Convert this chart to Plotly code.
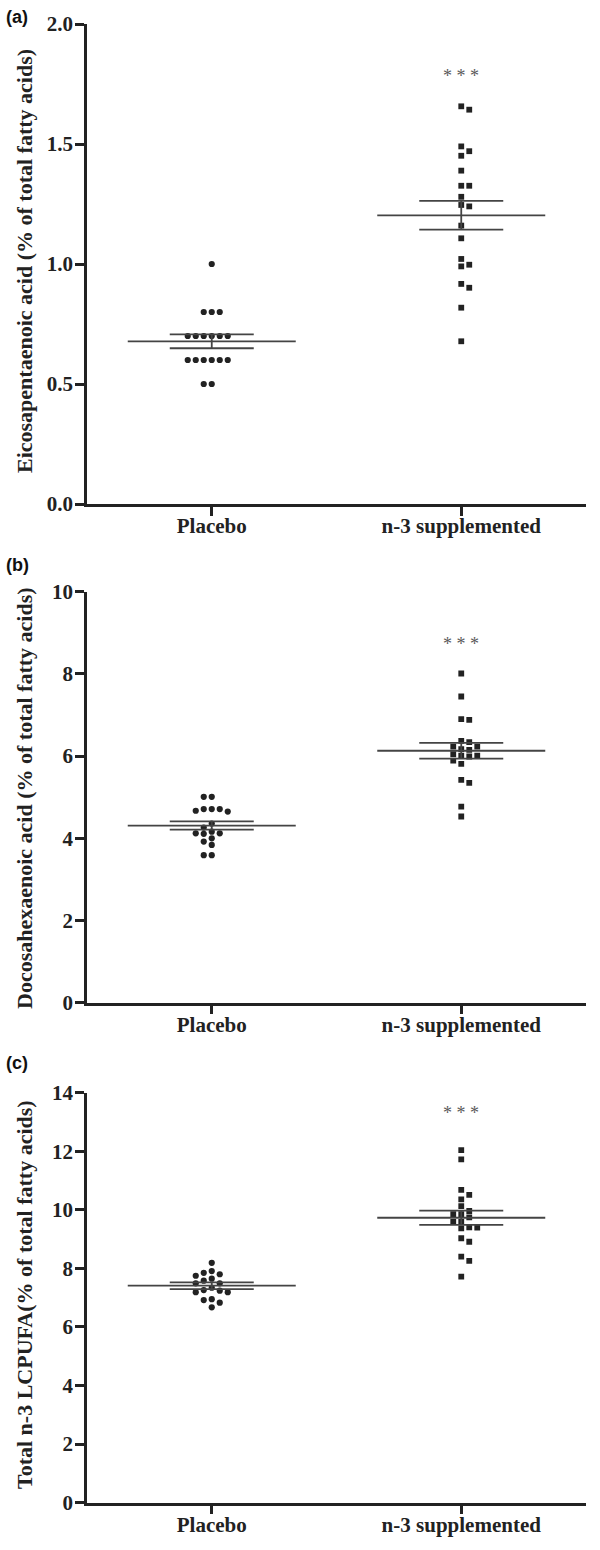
import plotly.graph_objects as go

# ---------------- data ----------------
categories = ["Placebo", "n-3 supplemented"]
panel_labels = ["(a)", "(b)", "(c)"]
y_titles = [
    "Eicosapentaenoic acid (% of total fatty acids)",
    "Docosahexaenoic acid (% of total fatty acids)",
    "Total n-3 LCPUFA(% of total fatty acids)",
]
y_ticks_a = [0.0, 0.5, 1.0, 1.5, 2.0]
y_ticks_b = [0, 2, 4, 6, 8, 10]
y_ticks_c = [0, 2, 4, 6, 8, 10, 12, 14]

epa_placebo = [1.00, 0.80, 0.80, 0.80, 0.70, 0.70, 0.70, 0.70, 0.70, 0.70,
               0.60, 0.60, 0.60, 0.60, 0.60, 0.60, 0.50, 0.50]
epa_n3 = [1.657, 1.643, 1.490, 1.470, 1.451, 1.389, 1.326, 1.326, 1.280, 1.246,
          1.240, 1.160, 1.107, 1.021, 0.997, 0.990, 0.917, 0.901, 0.818, 0.678]

dha_placebo = [5.01, 5.01, 4.71, 4.71, 4.71, 4.67, 4.65, 4.36, 4.26, 4.16,
               4.12, 4.12, 4.11, 4.00, 3.92, 3.84, 3.59, 3.59]
dha_n3 = [8.01, 7.45, 6.90, 6.88, 6.37, 6.34, 6.23, 6.23, 6.17, 6.15,
          6.05, 6.01, 6.01, 5.99, 5.89, 5.81, 5.42, 5.35, 4.77, 4.53]

tot_placebo = [8.19, 7.91, 7.85, 7.80, 7.75, 7.65, 7.58, 7.49, 7.49, 7.34,
               7.26, 7.24, 7.19, 7.19, 6.95, 6.92, 6.83, 6.67]
tot_n3 = [12.04, 11.72, 10.68, 10.51, 10.36, 10.13, 9.96, 9.85, 9.85, 9.74,
          9.59, 9.59, 9.40, 9.39, 9.37, 9.03, 8.91, 8.40, 8.26, 7.72]

# mean and SEM as drawn
means_a = [0.678, 1.203]
sems_a = [0.029, 0.060]
means_b = [4.31, 6.13]
sems_b = [0.10, 0.19]
means_c = [7.41, 9.73]
sems_c = [0.115, 0.24]

signif = ["", "***"]
signif_y = [1.80, 8.83, 13.43]

# ---------------- layout geometry ----------------
W, H = 600, 1550
L, R = 87, 14
PW = W - L - R
panels = [
    dict(top=24, bottom=504, rng=[0, 2], ticks=y_ticks_a, fmt=".1f",
         data=[epa_placebo, epa_n3], means=means_a, sems=sems_a, label_y=17, title_y=261),
    dict(top=591.7, bottom=1002.7, rng=[0, 10], ticks=y_ticks_b, fmt="d",
         data=[dha_placebo, dha_n3], means=means_b, sems=sems_b, label_y=565, title_y=798),
    dict(top=1092.7, bottom=1502.7, rng=[0, 14], ticks=y_ticks_c, fmt="d",
         data=[tot_placebo, tot_n3], means=means_c, sems=sems_c, label_y=1063, title_y=1295),
]
x_range = [-0.5, 1.5]
x_px_per_unit = PW / (x_range[1] - x_range[0])
slot_px = 8.0
marker_px = 6.0
ink = "#222222"
line_col = "#444444"


def px_to_paper_x(px):
    return (px - L) / PW


def beeswarm(values, y_px_per_unit, first_side):
    """Place points in discrete horizontal slots so markers do not overlap."""
    placed = []  # (slot, value)
    offsets = []
    order = [0]
    for k in range(1, 12):
        order += [first_side * k, -first_side * k]
    for v in values:
        for s in order:
            ok = all(abs(v - pv) * y_px_per_unit >= marker_px for ps, pv in placed if ps == s)
            if ok:
                placed.append((s, v))
                offsets.append(s * slot_px / x_px_per_unit)
                break
    return offsets


fig = go.Figure()
annotations = []
symbols = ["circle", "square"]
sizes = [6.2, 5.8]
sides = [-1, 1]

for i, p in enumerate(panels):
    xa = "x" if i == 0 else f"x{i+1}"
    ya = "y" if i == 0 else f"y{i+1}"
    y_px_per_unit = (p["bottom"] - p["top"]) / (p["rng"][1] - p["rng"][0])
    for g, vals in enumerate(p["data"]):
        offs = beeswarm(vals, y_px_per_unit, sides[g])
        fig.add_trace(go.Scatter(
            x=[g + o for o in offs], y=vals, mode="markers", xaxis=xa, yaxis=ya,
            marker=dict(symbol=symbols[g], size=sizes[g], color=ink, line=dict(width=0)),
            showlegend=False, hoverinfo="y"))
        m, s = p["means"][g], p["sems"][g]
        mean_half = 84 / x_px_per_unit
        cap_half = 42 / x_px_per_unit
        xs = [g - mean_half, g + mean_half, None,
              g - cap_half, g + cap_half, None,
              g - cap_half, g + cap_half, None,
              g, g]
        ys = [m, m, None, m + s, m + s, None, m - s, m - s, None, m + s, m - s]
        fig.add_trace(go.Scatter(
            x=xs, y=ys, mode="lines", xaxis=xa, yaxis=ya,
            line=dict(color=line_col, width=1.8), showlegend=False, hoverinfo="skip"))
        if signif[g]:
            annotations.append(dict(
                x=g, y=signif_y[i], xref=xa, yref=ya, text="* * *", showarrow=False,
                yshift=-4, font=dict(family="Liberation Serif", size=18, color="#5a5a5a")))

    dom = [1 - p["bottom"] / H, 1 - p["top"] / H]
    axis_common = dict(showline=True, linecolor=ink, linewidth=2.5, ticks="outside",
                       ticklen=9, tickwidth=2.5, tickcolor=ink, showgrid=False,
                       zeroline=False, fixedrange=True, automargin=False,
                       tickfont=dict(family="Liberation Serif", size=21, color=ink, weight="bold"))
    fig.layout[("xaxis" if i == 0 else f"xaxis{i+1}")] = dict(
        axis_common, domain=[0, 1], range=x_range, tickvals=[0, 1], ticktext=categories,
        anchor=ya, ticklabelstandoff=-8)
    fig.layout[("yaxis" if i == 0 else f"yaxis{i+1}")] = dict(
        axis_common, domain=dom, range=p["rng"], tickvals=p["ticks"], tickformat=p["fmt"],
        anchor=xa, ticklabelstandoff=-2)

    annotations.append(dict(
        x=px_to_paper_x(4), y=1 - p["label_y"] / H, xref="paper", yref="paper",
        text=panel_labels[i], xanchor="left", yanchor="middle", showarrow=False,
        font=dict(family="Liberation Sans", size=18, color="#111111", weight="bold")))
    annotations.append(dict(
        x=px_to_paper_x(24), y=1 - p["title_y"] / H, xref="paper", yref="paper",
        text=y_titles[i], xanchor="center", yanchor="middle", textangle=-90, showarrow=False,
        font=dict(family="Liberation Serif", size=22, color=ink, weight="bold")))

fig.update_layout(
    template="none",
    width=W, height=H, margin=dict(l=L, r=R, t=0, b=0, autoexpand=False),
    paper_bgcolor="white", plot_bgcolor="white",
    annotations=annotations, showlegend=False)

fig.write_html("out.html", config={"displayModeBar": False},
               post_script="document.body.style.margin='0px';document.body.style.padding='0px';")
